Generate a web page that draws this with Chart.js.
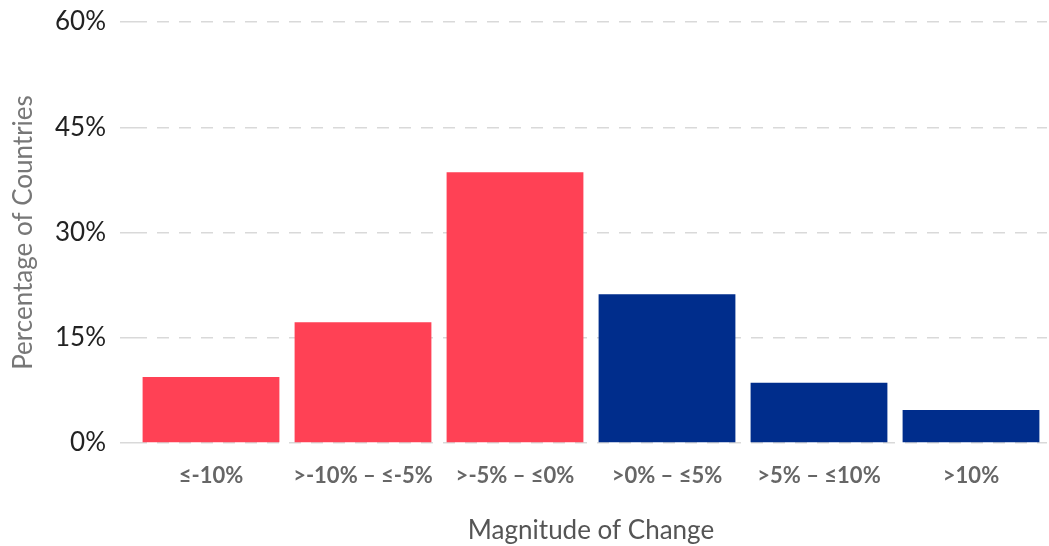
<!DOCTYPE html>
<html>
<head>
<meta charset="utf-8">
<script src="https://cdn.jsdelivr.net/npm/chart.js@4.4.0/dist/chart.umd.min.js"></script>
<style>
  html, body { margin: 0; padding: 0; background: #fff; }
  #wrap { width: 1049px; height: 546px; }
</style>
</head>
<body>
<div id="wrap"><canvas id="chart" width="1049" height="546"></canvas></div>
<script>
// Data
const categories = ['≤-10%', '>-10% – ≤-5%', '>-5% – ≤0%', '>0% – ≤5%', '>5% – ≤10%', '>10%'];
const shares = [9.4, 17.2, 38.6, 21.2, 8.6, 4.7];
const barColors = ['#ff4155', '#ff4155', '#ff4155', '#002d8c', '#002d8c', '#002d8c'];
const yTicks = [0, 15, 30, 45, 60];

const ctx = document.getElementById('chart').getContext('2d');

new Chart(ctx, {
    type: 'bar',
    data: {
        labels: categories,
        datasets: [{
            data: shares,
            backgroundColor: barColors,
            borderWidth: 0,
            barPercentage: 0.9,
            categoryPercentage: 1.0
        }]
    },
    options: {
        responsive: false,
        animation: false,
        layout: { padding: { top: 22, right: 2, left: 0, bottom: 0 } },
        plugins: {
            legend: { display: false },
            tooltip: { enabled: false }
        },
        scales: {
            x: {
                grid: { display: false },
                border: { display: false },
                ticks: {
                    color: '#666',
                    padding: 12,
                    font: { family: 'Lato', size: 22, weight: 'bold' },
                    maxRotation: 0
                },
                title: {
                    display: true,
                    text: 'Magnitude of Change',
                    color: '#555',
                    font: { family: 'Lato', size: 26 },
                    padding: { top: 20, bottom: 0 }
                },
                afterFit: function(scale) { scale.height = 103; }
            },
            y: {
                min: 0,
                max: 60,
                afterBuildTicks: function(scale) {
                    scale.ticks = yTicks.map(v => ({ value: v }));
                },
                grid: {
                    color: '#d9d9d9',
                    lineWidth: 1.5,
                    tickLength: 15,
                    drawTicks: true
                },
                border: { display: false, dash: [12, 10] },
                ticks: {
                    color: '#222',
                    padding: 14,
                    font: { family: 'Lato', size: 26, lineHeight: 0.6 },
                    callback: v => v + '%'
                },
                title: {
                    display: true,
                    text: 'Percentage of Countries',
                    color: '#777',
                    font: { family: 'Lato', size: 26 },
                    padding: { top: 8, bottom: 0 }
                },
                afterFit: function(scale) { scale.width = 135; }
            }
        }
    }
});
</script>
</body>
</html>
